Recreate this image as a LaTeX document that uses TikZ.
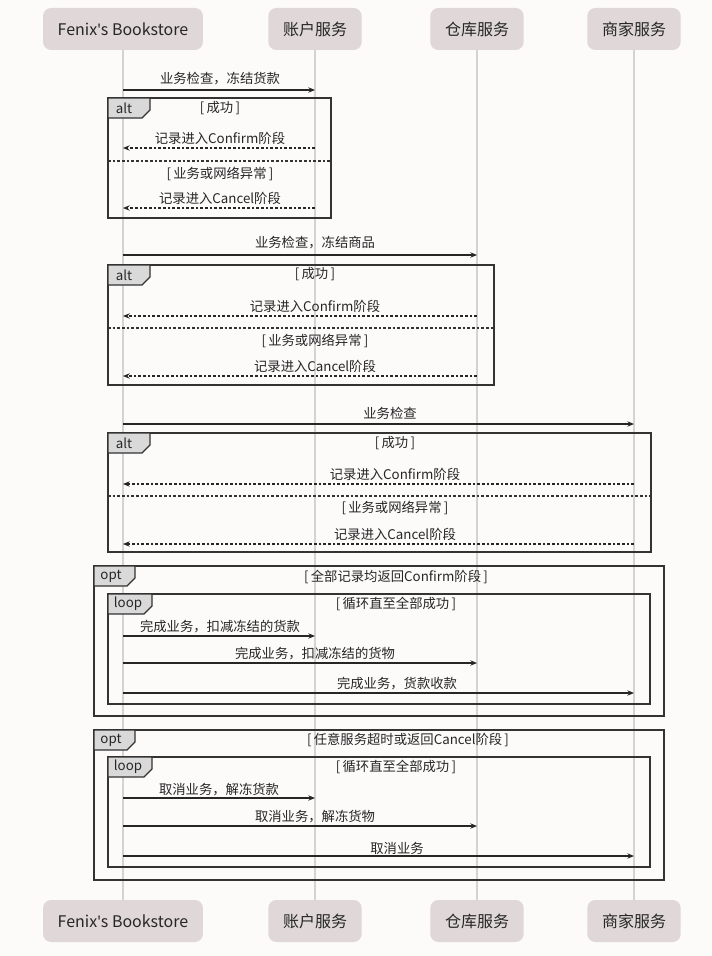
\documentclass[tikz,border=0pt]{standalone}
\usepackage{fontspec}
\setmainfont{Noto Sans CJK SC}
\newfontfamily\latinfont{Noto Sans}
\usetikzlibrary{arrows.meta}
\definecolor{bgclr}{HTML}{FDFAFA}
\definecolor{actorfill}{HTML}{E0D8D8}
\definecolor{lifeclr}{HTML}{D4D2D2}
\definecolor{frameclr}{HTML}{333333}
\definecolor{tagfill}{HTML}{D9D9D9}
\begin{document}
\begin{tikzpicture}[x=0.75pt,y=-0.75pt,>={Stealth[length=5pt,width=4pt]},
  actor/.style={fill=actorfill, rounded corners=6pt, minimum height=31.5pt, inner xsep=11pt, font=\fontsize{12}{14}\selectfont, text=black!85},
  life/.style={lifeclr, line width=1.2pt},
  msg/.style={->, line width=0.8pt, black!85},
  reply/.style={msg, dash pattern=on 2pt off 1.5pt},
  lbl/.style={font=\fontsize{10}{12}\selectfont, text=black!85, inner sep=1pt},
  frame/.style={frameclr, line width=1pt},
  sep/.style={frameclr, line width=0.8pt, dash pattern=on 2pt off 1.5pt},
  tag/.style={frame, fill=tagfill},
  tagtxt/.style={font=\fontsize{10}{12}\selectfont, text=black!85, inner sep=0pt}]
\fill[bgclr] (0,0) rectangle (712,956);
\useasboundingbox (0,0) rectangle (712,956);
\node[actor] (fbT) at (123,29) {Fenix{\latinfont'}s Bookstore};
\node[actor] (acT) at (315,29) {账户服务};
\node[actor] (whT) at (477,29) {仓库服务};
\node[actor] (mcT) at (634,29) {商家服务};
\node[actor] (fbB) at (123,921) {Fenix{\latinfont'}s Bookstore};
\node[actor] (acB) at (315,921) {账户服务};
\node[actor] (whB) at (477,921) {仓库服务};
\node[actor] (mcB) at (634,921) {商家服务};
\draw[life] (fbT) -- (fbB);
\draw[life] (acT) -- (acB);
\draw[life] (whT) -- (whB);
\draw[life] (mcT) -- (mcB);

\draw[msg] (fbT |- 0,90) -- (acT |- 0,90);
\node[lbl] (m1) at (220,79) {业务检查，冻结货款};
\draw[frame] (108,98) rectangle (331,218);
\draw[tag] (108,98) -- (150,98) -- (150,110) -- (142,118) -- (108,118) -- cycle;
\node[tagtxt] (alt1) at (124,108) {alt};
\node[lbl] (g1) at (220,108) {[\,成功\,]};
\node[lbl] (r1) at (220,138) {记录进入Confirm阶段};
\draw[reply] (acT |- 0,148) -- (fbT |- 0,148);
\draw[sep] (108,161) -- (331,161);
\node[lbl] (g2) at (220,174) {[\,业务或网络异常\,]};
\node[lbl] (r2) at (220,198) {记录进入Cancel阶段};
\draw[reply] (acT |- 0,208) -- (fbT |- 0,208);

\draw[msg] (fbT |- 0,255) -- (whT |- 0,255);
\node[lbl] (m2) at (315,243) {业务检查，冻结商品};
\draw[frame] (108,265) rectangle (494,385);
\draw[tag] (108,265) -- (150,265) -- (150,277) -- (142,285) -- (108,285) -- cycle;
\node[tagtxt] (alt2) at (124,275) {alt};
\node[lbl] (g3) at (315,274) {[\,成功\,]};
\node[lbl] (r3) at (315,306) {记录进入Confirm阶段};
\draw[reply] (whT |- 0,316) -- (fbT |- 0,316);
\draw[sep] (108,328) -- (494,328);
\node[lbl] (g4) at (315,341) {[\,业务或网络异常\,]};
\node[lbl] (r4) at (315,366) {记录进入Cancel阶段};
\draw[reply] (whT |- 0,376) -- (fbT |- 0,376);

\draw[msg] (fbT |- 0,424) -- (mcT |- 0,424);
\node[lbl] (m3) at (390,413) {业务检查};
\draw[frame] (108,433) rectangle (651,552);
\draw[tag] (108,433) -- (150,433) -- (150,445) -- (142,453) -- (108,453) -- cycle;
\node[tagtxt] (alt3) at (124,443) {alt};
\node[lbl] (g5) at (395,443) {[\,成功\,]};
\node[lbl] (r5) at (395,474) {记录进入Confirm阶段};
\draw[reply] (mcT |- 0,484) -- (fbT |- 0,484);
\draw[sep] (108,496) -- (651,496);
\node[lbl] (g6) at (395,508) {[\,业务或网络异常\,]};
\node[lbl] (r6) at (395,534) {记录进入Cancel阶段};
\draw[reply] (mcT |- 0,544) -- (fbT |- 0,544);

\draw[frame] (94,566) rectangle (664,716);
\draw[tag] (94,566) -- (135,566) -- (135,578) -- (127,586) -- (94,586) -- cycle;
\node[tagtxt] (opt1) at (111,576) {opt};
\node[lbl] (g7) at (396,577) {[\,全部记录均返回Confirm阶段\,]};
\draw[frame] (108,594) rectangle (650,704);
\draw[tag] (108,594) -- (152,594) -- (152,606) -- (144,614) -- (108,614) -- cycle;
\node[tagtxt] (loop1) at (128,604) {loop};
\node[lbl] (g8) at (396,604) {[\,循环直至全部成功\,]};
\draw[msg] (fbT |- 0,636) -- (acT |- 0,636);
\node[lbl] (m4) at (220,627) {完成业务，扣减冻结的货款};
\draw[msg] (fbT |- 0,663) -- (whT |- 0,663);
\node[lbl] (m5) at (315,654) {完成业务，扣减冻结的货物};
\draw[msg] (fbT |- 0,693) -- (mcT |- 0,693);
\node[lbl] (m6) at (397,684) {完成业务，货款收款};

\draw[frame] (94,730) rectangle (664,880);
\draw[tag] (94,730) -- (135,730) -- (135,742) -- (127,750) -- (94,750) -- cycle;
\node[tagtxt] (opt2) at (111,740) {opt};
\node[lbl] (g9) at (408,740) {[\,任意服务超时或返回Cancel阶段\,]};
\draw[frame] (108,757) rectangle (650,867);
\draw[tag] (108,757) -- (152,757) -- (152,769) -- (144,777) -- (108,777) -- cycle;
\node[tagtxt] (loop2) at (128,767) {loop};
\node[lbl] (g10) at (396,767) {[\,循环直至全部成功\,]};
\draw[msg] (fbT |- 0,798) -- (acT |- 0,798);
\node[lbl] (m7) at (219,790) {取消业务，解冻货款};
\draw[msg] (fbT |- 0,826) -- (whT |- 0,826);
\node[lbl] (m8) at (315,817) {取消业务，解冻货物};
\draw[msg] (fbT |- 0,856) -- (mcT |- 0,856);
\node[lbl] (m9) at (397,848) {取消业务};
\end{tikzpicture}
\end{document}
